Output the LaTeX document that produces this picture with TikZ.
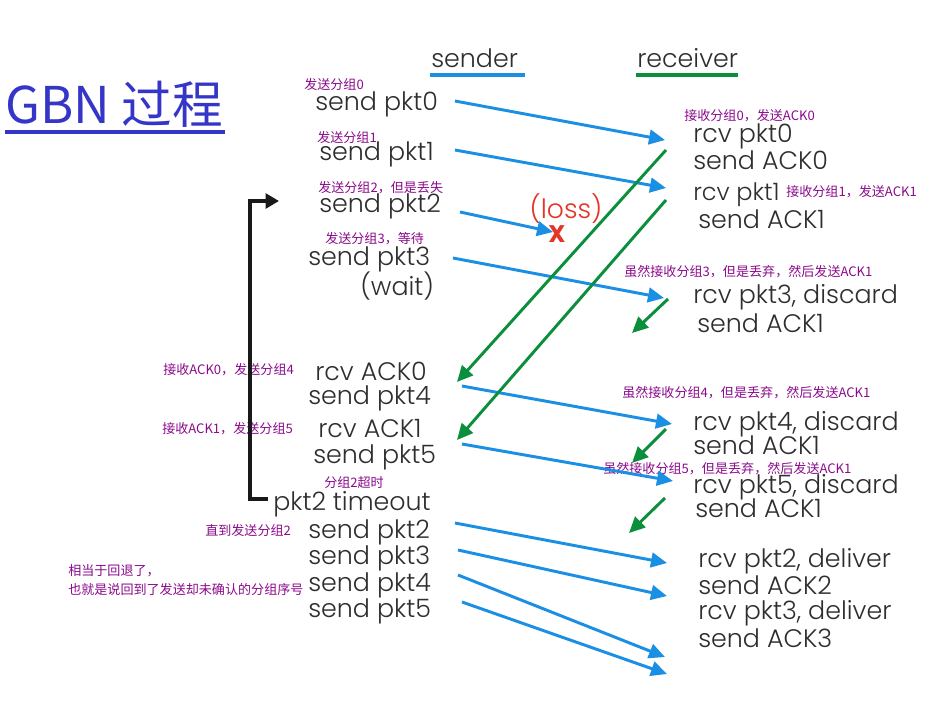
\documentclass[tikz,border=0pt]{standalone}
\usepackage{fontspec}
\setmainfont{Poppins}[UprightFont=* Light,BoldFont=* Bold]
\newfontfamily\cjk{Noto Sans CJK SC}
\usetikzlibrary{arrows.meta}
\definecolor{pktblue}{HTML}{1A8FE3}
\definecolor{ackgreen}{HTML}{0B8F3D}
\definecolor{notepurple}{HTML}{8B0A8B}
\definecolor{titleblue}{HTML}{3535C8}
\definecolor{txtgray}{HTML}{2E2E2E}
\definecolor{lossred}{HTML}{E53527}
\begin{document}
\begin{tikzpicture}[x=0.75pt,y=-0.75pt,
  lbl/.style={anchor=west,inner sep=0pt,text=txtgray,font=\fontsize{19}{22}\selectfont},
  note/.style={anchor=west,inner sep=0pt,text=notepurple,font=\cjk\fontsize{9.8}{11}\selectfont},
  pkt/.style={color=pktblue,line width=2.2pt,-{Triangle[length=12pt,width=11pt]}},
  ack/.style={color=ackgreen,line width=2.2pt,-{Triangle[length=12pt,width=11pt]}},
  bracket/.style={color=black!90,line width=2.5pt,-{Triangle[length=10pt,width=11pt]}},
]
\useasboundingbox[fill=white] (0,0) rectangle (951,701);

% title
\node[anchor=west,inner sep=0pt,text=titleblue,font=\cjk\fontsize{38}{42}\selectfont] (title) at (5,104) {GBN 过程};
\draw[titleblue,line width=2.4pt] (title.south west |- 0,132) coordinate (tl) -- (225,132) coordinate (tr);

% headers
\node[lbl] (sender) at (431,58) {sender};
\node[lbl] (receiver) at (637,58) {receiver};
\draw[pktblue,line width=2.4pt] (430,75) coordinate (sl) -- (525,75) coordinate (sr);
\draw[ackgreen,line width=2.4pt] (636,75) coordinate (rl) -- (738,75) coordinate (rr);

% sender side
\node[note] (n0) at (304,85) {发送分组0};
\node[lbl] (s0) at (315,104) {send pkt0};
\node[note] (n1) at (317,138) {发送分组1};
\node[lbl] (s1) at (319,154) {send pkt1};
\node[note] (n2) at (318,188) {发送分组2，但是丢失};
\node[lbl] (s2) at (319,206) {send pkt2};
\node[note] (n3) at (325,239) {发送分组3，等待};
\node[lbl] (s3) at (308,259) {send pkt3};
\node[lbl] (w3) at (360,286) {(wait)};
\node[note] (n4) at (163,370) {接收ACK0，发送分组4};
\node[lbl] (ra0) at (315,371) {rcv ACK0};
\node[lbl] (s4) at (308,398) {send pkt4};
\node[note] (n5) at (162,429) {接收ACK1，发送分组5};
\node[lbl] (ra1) at (318,429) {rcv ACK1};
\node[lbl] (s5) at (313,457) {send pkt5};
\node[note] (nto) at (324,483) {分组2超时};
\node[lbl] (to) at (273,504) {pkt2 timeout};
\node[note] (nre) at (205,531) {直到发送分组2};
\node[lbl] (rs2) at (308,532) {send pkt2};
\node[lbl] (rs3) at (308,558) {send pkt3};
\node[lbl] (rs4) at (308,585) {send pkt4};
\node[lbl] (rs5) at (308,611) {send pkt5};
\node[note] (nb1) at (68,571) {相当于回退了，};
\node[note] (nb2) at (68,590) {也就是说回到了发送却未确认的分组序号};

% receiver side
\node[note] (m0) at (684,116) {接收分组0，发送ACK0};
\node[lbl] (r0) at (693,136) {rcv pkt0};
\node[lbl] (a0) at (693,160) {send ACK0};
\node[lbl,font=\fontsize{18}{22}\selectfont] (r1) at (693,195) {rcv pkt1};
\node[note] (m1) at (786,192) {接收分组1，发送ACK1};
\node[lbl] (a1) at (698,219) {send ACK1};
\node[note] (m3) at (624,272) {虽然接收分组3，但是丢弃，然后发送ACK1};
\node[lbl] (r3) at (693,297) {rcv pkt3, discard};
\node[lbl] (a3) at (697,323) {send ACK1};
\node[note] (m4) at (622,393) {虽然接收分组4，但是丢弃，然后发送ACK1};
\node[lbl] (r4) at (693,424) {rcv pkt4, discard};
\node[lbl] (a4) at (693,445) {send ACK1};
\node[note] (m5) at (603,469) {虽然接收分组5，但是丢弃，然后发送ACK1};
\node[lbl] (r5) at (693,487) {rcv pkt5, discard};
\node[lbl] (a5) at (695,508) {send ACK1};
\node[lbl] (d2) at (698,561) {rcv pkt2, deliver};
\node[lbl] (k2) at (698,585) {send ACK2};
\node[lbl] (d3) at (698,613) {rcv pkt3, deliver};
\node[lbl] (k3) at (698,638) {send ACK3};

% loss
\node[anchor=center,inner sep=0pt,text=lossred,font=\fontsize{20}{24}\selectfont] (loss) at (566,209) {(loss)};
\node[anchor=center,inner sep=0pt,text=lossred,font=\bfseries\fontsize{18}{22}\selectfont] (cross) at (557,234) {X};

% blue packet arrows
\coordinate (p0s) at (455,101); \coordinate (p0e) at (665,140);
\coordinate (p1s) at (455,150); \coordinate (p1e) at (666,188);
\coordinate (p2s) at (460,212); \coordinate (p2e) at (553,232);
\coordinate (p3s) at (453,258); \coordinate (p3e) at (664,298);
\coordinate (p4s) at (462,386); \coordinate (p4e) at (672,424);
\coordinate (p5s) at (462,444); \coordinate (p5e) at (673,481);
\coordinate (q2s) at (455,523); \coordinate (q2e) at (667,563);
\coordinate (q3s) at (458,550); \coordinate (q3e) at (667,596);
\coordinate (q4s) at (458,575); \coordinate (q4e) at (665,657);
\coordinate (q5s) at (462,602); \coordinate (q5e) at (667,674);
\foreach \a in {p0,p1,p2,p3,p4,p5,q2,q3,q4,q5} \draw[pkt] (\a s) -- (\a e);

% green ack arrows
\coordinate (g0s) at (666,150); \coordinate (g0e) at (457,382);
\coordinate (g1s) at (666,200); \coordinate (g1e) at (457,440);
\coordinate (g3s) at (668,299); \coordinate (g3e) at (632,333);
\coordinate (g4s) at (666,429); \coordinate (g4e) at (632,463);
\coordinate (g5s) at (665,498); \coordinate (g5e) at (629,533);
\foreach \a in {g0,g1,g3,g4,g5} \draw[ack] (\a s) -- (\a e);

% timeout bracket
\coordinate (brb) at (268,499);
\coordinate (brt) at (279,201);
\draw[bracket] (brb) -- (250,499) -- (250,201) -- (brt);
\end{tikzpicture}
\end{document}
